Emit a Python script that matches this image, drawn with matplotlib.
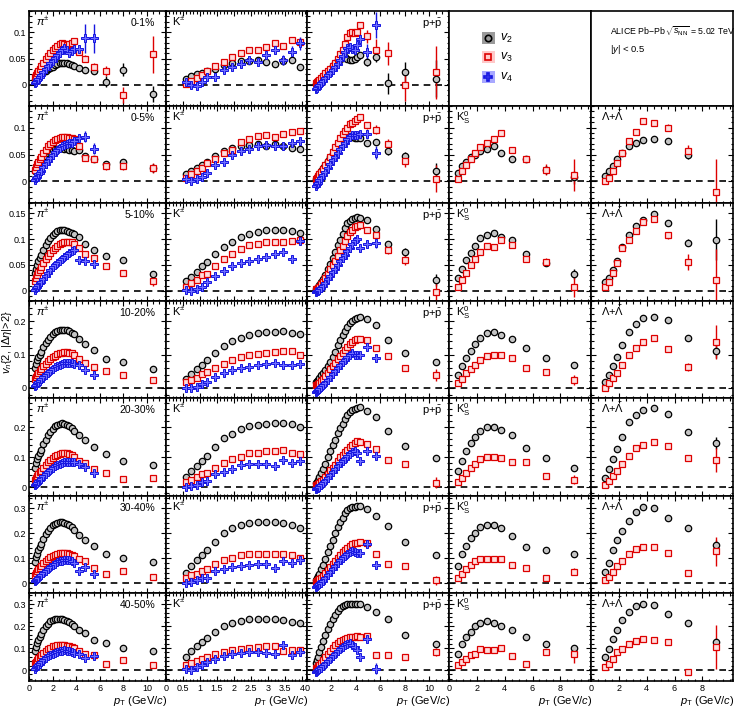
import numpy as np
import matplotlib
matplotlib.use("Agg")
import matplotlib.pyplot as plt
from matplotlib.ticker import MultipleLocator, FixedLocator, FuncFormatter
from matplotlib.patches import Rectangle
from matplotlib import font_manager as fm

# ---------------- data ----------------
CENT = ["0-1%", "0-5%", "5-10%", "10-20%", "20-30%", "30-40%", "40-50%"]

PI_PT = [0.5, 0.6, 0.7, 0.8, 0.9, 1.0, 1.2, 1.4, 1.6, 1.8, 2.0, 2.2, 2.4, 2.6, 2.8,
         3.0, 3.2, 3.4, 3.6, 3.8, 4.25, 4.75, 5.5, 6.5, 8.0, 10.5]
PI_V2 = [
    [0.010, 0.012, 0.014, 0.016, 0.018, 0.020, 0.024, 0.027, 0.030, 0.032, 0.034, 0.037, 0.039, 0.041, 0.042, 0.042, 0.041, 0.039, 0.037, 0.035, 0.032, 0.028, 0.026, 0.006, 0.029, -0.017],
    [0.019, 0.023, 0.027, 0.031, 0.034, 0.037, 0.043, 0.048, 0.052, 0.055, 0.058, 0.060, 0.061, 0.062, 0.062, 0.061, 0.060, 0.059, 0.058, 0.057, 0.058, 0.047, 0.042, 0.032, 0.036, 0.025],
    [0.034, 0.042, 0.050, 0.057, 0.063, 0.069, 0.079, 0.088, 0.096, 0.103, 0.108, 0.112, 0.115, 0.117, 0.117, 0.117, 0.116, 0.114, 0.112, 0.109, 0.104, 0.090, 0.079, 0.067, 0.059, 0.033],
    [0.060, 0.072, 0.083, 0.092, 0.100, 0.108, 0.121, 0.133, 0.144, 0.153, 0.160, 0.166, 0.170, 0.173, 0.174, 0.174, 0.172, 0.169, 0.165, 0.160, 0.145, 0.130, 0.113, 0.087, 0.078, 0.058],
    [0.065, 0.080, 0.093, 0.105, 0.115, 0.125, 0.142, 0.158, 0.172, 0.184, 0.194, 0.202, 0.208, 0.211, 0.212, 0.211, 0.208, 0.203, 0.196, 0.188, 0.172, 0.158, 0.132, 0.110, 0.087, 0.073],
    [0.086, 0.103, 0.118, 0.132, 0.145, 0.157, 0.178, 0.196, 0.211, 0.223, 0.232, 0.239, 0.243, 0.245, 0.245, 0.243, 0.239, 0.233, 0.225, 0.215, 0.195, 0.172, 0.149, 0.118, 0.102, 0.086],
    [0.085, 0.105, 0.122, 0.137, 0.150, 0.162, 0.182, 0.198, 0.211, 0.221, 0.228, 0.232, 0.234, 0.234, 0.232, 0.229, 0.224, 0.218, 0.210, 0.200, 0.180, 0.166, 0.138, 0.123, 0.102, 0.085],
]
PI_V3 = [
    [0.015, 0.019, 0.023, 0.027, 0.031, 0.035, 0.042, 0.049, 0.055, 0.061, 0.066, 0.070, 0.074, 0.078, 0.079, 0.077, 0.076, 0.078, 0.080, 0.084, 0.062, 0.050, 0.034, 0.026, -0.019, 0.058],
    [0.022, 0.027, 0.032, 0.037, 0.041, 0.045, 0.052, 0.059, 0.065, 0.070, 0.074, 0.077, 0.079, 0.081, 0.082, 0.082, 0.082, 0.081, 0.080, 0.079, 0.065, 0.044, 0.042, 0.028, 0.028, 0.025],
    [0.018, 0.024, 0.030, 0.036, 0.041, 0.046, 0.054, 0.062, 0.068, 0.074, 0.079, 0.083, 0.087, 0.090, 0.092, 0.094, 0.095, 0.095, 0.094, 0.090, 0.082, 0.072, 0.063, 0.047, 0.035, 0.018],
    [0.028, 0.034, 0.040, 0.046, 0.051, 0.056, 0.065, 0.073, 0.080, 0.087, 0.092, 0.097, 0.101, 0.104, 0.106, 0.107, 0.107, 0.106, 0.104, 0.100, 0.087, 0.075, 0.062, 0.050, 0.038, 0.024],
    [0.025, 0.031, 0.037, 0.043, 0.049, 0.055, 0.065, 0.074, 0.082, 0.090, 0.097, 0.103, 0.108, 0.111, 0.113, 0.113, 0.112, 0.110, 0.106, 0.100, 0.088, 0.080, 0.060, 0.047, 0.028, 0.031],
    [0.033, 0.041, 0.048, 0.055, 0.062, 0.068, 0.079, 0.089, 0.097, 0.104, 0.110, 0.114, 0.117, 0.119, 0.120, 0.120, 0.119, 0.117, 0.114, 0.110, 0.097, 0.090, 0.060, 0.038, 0.048, 0.024],
    [0.030, 0.038, 0.046, 0.053, 0.060, 0.067, 0.078, 0.088, 0.096, 0.102, 0.107, 0.110, 0.112, 0.113, 0.113, 0.112, 0.110, 0.107, 0.103, 0.098, 0.085, 0.074, 0.070, 0.029, 0.044, 0.021],
]
PI_V4 = [
    [0.003, 0.006, 0.009, 0.012, 0.015, 0.018, 0.024, 0.030, 0.036, 0.041, 0.046, 0.051, 0.056, 0.061, 0.066, 0.070, 0.066, 0.060, 0.064, 0.068, 0.068, 0.088, 0.088],
    [0.003, 0.006, 0.009, 0.013, 0.016, 0.019, 0.026, 0.032, 0.038, 0.044, 0.049, 0.054, 0.058, 0.062, 0.065, 0.068, 0.070, 0.071, 0.072, 0.075, 0.080, 0.083, 0.061],
    [0.002, 0.005, 0.008, 0.011, 0.014, 0.017, 0.023, 0.029, 0.034, 0.040, 0.045, 0.049, 0.054, 0.058, 0.062, 0.066, 0.070, 0.073, 0.076, 0.078, 0.060, 0.058, 0.052],
    [0.006, 0.010, 0.014, 0.018, 0.022, 0.026, 0.033, 0.040, 0.046, 0.052, 0.057, 0.062, 0.066, 0.069, 0.072, 0.074, 0.075, 0.076, 0.075, 0.073, 0.068, 0.054, 0.039],
    [0.006, 0.010, 0.015, 0.019, 0.024, 0.028, 0.036, 0.044, 0.051, 0.058, 0.064, 0.069, 0.073, 0.077, 0.080, 0.082, 0.083, 0.083, 0.082, 0.085, 0.078, 0.067, 0.047],
    [0.007, 0.012, 0.017, 0.022, 0.027, 0.032, 0.041, 0.050, 0.058, 0.066, 0.072, 0.078, 0.083, 0.087, 0.090, 0.092, 0.092, 0.091, 0.088, 0.080, 0.050, 0.065, 0.035],
    [0.006, 0.012, 0.018, 0.024, 0.029, 0.035, 0.045, 0.054, 0.062, 0.069, 0.075, 0.079, 0.083, 0.086, 0.088, 0.089, 0.088, 0.086, 0.083, 0.078, 0.074, 0.056, 0.062],
]
# uncertainties of the last (high-pT) points of each series
PI_V2_ERR = [[0.003, 0.003, 0.004, 0.010, 0.012, 0.015], [0.002, 0.002, 0.003, 0.004, 0.005, 0.008],
             [0.002, 0.002, 0.002, 0.003, 0.004, 0.005], [0.002, 0.002, 0.002, 0.003, 0.003, 0.004],
             [0.002, 0.002, 0.002, 0.003, 0.003, 0.004], [0.002, 0.002, 0.002, 0.003, 0.003, 0.004],
             [0.002, 0.002, 0.002, 0.003, 0.003, 0.004]]
PI_V3_ERR = [[0.005, 0.006, 0.008, 0.010, 0.015, 0.035], [0.003, 0.004, 0.005, 0.006, 0.007, 0.010],
             [0.003, 0.003, 0.004, 0.005, 0.006, 0.008], [0.003, 0.003, 0.004, 0.005, 0.005, 0.007],
             [0.003, 0.003, 0.004, 0.005, 0.005, 0.007], [0.003, 0.003, 0.004, 0.005, 0.005, 0.007],
             [0.003, 0.003, 0.004, 0.005, 0.005, 0.007]]
PI_V4_ERR = [[0.008, 0.028, 0.028], [0.005, 0.010, 0.010], [0.004, 0.007, 0.007], [0.004, 0.005, 0.006],
             [0.004, 0.005, 0.006], [0.004, 0.006, 0.007], [0.004, 0.006, 0.007]]

K_PT = [0.6, 0.75, 0.9, 1.05, 1.2, 1.45, 1.7, 1.95, 2.2, 2.45, 2.7, 2.95, 3.2, 3.45, 3.7, 3.95]
K_V2 = [
    [0.012, 0.016, 0.020, 0.022, 0.026, 0.031, 0.038, 0.042, 0.045, 0.046, 0.047, 0.044, 0.039, 0.045, 0.047, 0.034],
    [0.013, 0.019, 0.025, 0.031, 0.037, 0.047, 0.056, 0.062, 0.066, 0.067, 0.069, 0.066, 0.069, 0.066, 0.062, 0.061],
    [0.018, 0.027, 0.037, 0.047, 0.056, 0.071, 0.085, 0.095, 0.104, 0.109, 0.114, 0.117, 0.118, 0.118, 0.116, 0.112],
    [0.028, 0.042, 0.057, 0.070, 0.084, 0.105, 0.124, 0.139, 0.150, 0.158, 0.164, 0.167, 0.168, 0.169, 0.165, 0.160],
    [0.033, 0.053, 0.070, 0.087, 0.105, 0.135, 0.162, 0.178, 0.192, 0.203, 0.208, 0.211, 0.212, 0.212, 0.209, 0.200],
    [0.042, 0.069, 0.092, 0.114, 0.134, 0.165, 0.200, 0.220, 0.234, 0.242, 0.244, 0.244, 0.244, 0.240, 0.234, 0.223],
    [0.060, 0.085, 0.108, 0.128, 0.145, 0.172, 0.200, 0.215, 0.225, 0.230, 0.233, 0.233, 0.230, 0.228, 0.220, 0.214],
]
K_V3 = [
    [0.002, 0.008, 0.014, 0.018, 0.026, 0.035, 0.044, 0.052, 0.061, 0.066, 0.067, 0.072, 0.079, 0.074, 0.085, 0.082],
    [0.006, 0.013, 0.019, 0.025, 0.034, 0.041, 0.053, 0.059, 0.073, 0.079, 0.084, 0.086, 0.083, 0.088, 0.091, 0.093],
    [0.008, 0.015, 0.021, 0.031, 0.033, 0.047, 0.061, 0.072, 0.080, 0.088, 0.090, 0.095, 0.095, 0.095, 0.096, 0.098],
    [0.017, 0.024, 0.031, 0.041, 0.047, 0.060, 0.073, 0.083, 0.093, 0.098, 0.103, 0.106, 0.108, 0.110, 0.110, 0.100],
    [0.017, 0.025, 0.033, 0.042, 0.047, 0.064, 0.081, 0.093, 0.100, 0.112, 0.115, 0.119, 0.121, 0.123, 0.115, 0.110],
    [0.022, 0.032, 0.038, 0.048, 0.055, 0.078, 0.092, 0.102, 0.113, 0.118, 0.116, 0.118, 0.118, 0.118, 0.113, 0.102],
    [0.021, 0.032, 0.041, 0.050, 0.058, 0.072, 0.084, 0.092, 0.097, 0.102, 0.105, 0.107, 0.108, 0.088, 0.090, 0.090],
]
K_V4 = [
    [0.005, -0.001, -0.003, 0.005, 0.015, 0.015, 0.028, 0.033, 0.039, 0.047, 0.044, 0.056, 0.066, 0.047, 0.063, 0.079],
    [0.004, 0.000, 0.004, 0.009, 0.016, 0.031, 0.037, 0.050, 0.056, 0.061, 0.066, 0.067, 0.066, 0.066, 0.072, 0.075],
    [0.002, -0.001, 0.003, 0.008, 0.016, 0.029, 0.039, 0.047, 0.053, 0.058, 0.061, 0.066, 0.071, 0.075, 0.061, 0.097],
    [0.000, 0.000, 0.004, 0.011, 0.017, 0.034, 0.044, 0.054, 0.059, 0.063, 0.068, 0.073, 0.075, 0.070, 0.070, 0.073],
    [0.000, 0.002, 0.008, 0.017, 0.019, 0.042, 0.051, 0.059, 0.073, 0.078, 0.076, 0.078, 0.070, 0.089, 0.081, 0.087],
    [0.001, 0.005, 0.011, 0.019, 0.022, 0.048, 0.055, 0.065, 0.069, 0.073, 0.078, 0.078, 0.062, 0.089, 0.082, 0.092],
    [0.006, 0.002, 0.014, 0.025, 0.036, 0.050, 0.062, 0.074, 0.077, 0.082, 0.082, 0.077, 0.074, 0.115, 0.067, 0.082],
]
K_V2_ERR = [[0.004, 0.004, 0.005, 0.005]] + [[0.002, 0.002, 0.003, 0.003]] * 6
K_V3_ERR = [[0.005, 0.006, 0.006, 0.007], [0.004, 0.004, 0.005, 0.005]] + [[0.003, 0.003, 0.004, 0.004]] * 5
K_V4_ERR = [[0.008, 0.010, 0.010, 0.012]] + [[0.005, 0.006, 0.006, 0.007]] * 6

P_PT = [0.7, 0.8, 0.9, 1.0, 1.15, 1.3, 1.5, 1.7, 1.9, 2.1, 2.3, 2.5, 2.7, 2.9, 3.1, 3.3, 3.5,
        3.7, 3.9, 4.1, 4.35, 4.9, 5.6, 6.6, 8.0, 10.5]
P_V2 = [
    [0.002, 0.004, 0.006, 0.008, 0.011, 0.015, 0.020, 0.026, 0.031, 0.036, 0.041, 0.046, 0.049, 0.051, 0.052, 0.050, 0.048, 0.047, 0.050, 0.052, 0.056, 0.044, 0.053, 0.003, 0.024, 0.012],
    [0.005, 0.008, 0.011, 0.014, 0.020, 0.025, 0.031, 0.038, 0.045, 0.051, 0.057, 0.063, 0.068, 0.072, 0.077, 0.081, 0.084, 0.083, 0.081, 0.080, 0.081, 0.072, 0.073, 0.056, 0.047, 0.020],
    [0.004, 0.006, 0.008, 0.011, 0.017, 0.022, 0.031, 0.043, 0.052, 0.063, 0.075, 0.088, 0.099, 0.110, 0.122, 0.131, 0.136, 0.139, 0.141, 0.142, 0.141, 0.138, 0.120, 0.090, 0.075, 0.021],
    [0.018, 0.021, 0.024, 0.030, 0.038, 0.045, 0.055, 0.065, 0.077, 0.092, 0.108, 0.127, 0.143, 0.157, 0.170, 0.183, 0.193, 0.200, 0.206, 0.210, 0.212, 0.205, 0.188, 0.143, 0.106, 0.078],
    [0.012, 0.018, 0.025, 0.033, 0.047, 0.060, 0.078, 0.100, 0.120, 0.139, 0.158, 0.180, 0.196, 0.210, 0.226, 0.240, 0.250, 0.256, 0.260, 0.263, 0.266, 0.254, 0.234, 0.186, 0.138, 0.098],
    [0.014, 0.020, 0.028, 0.038, 0.055, 0.072, 0.096, 0.125, 0.150, 0.175, 0.200, 0.225, 0.245, 0.263, 0.280, 0.293, 0.300, 0.304, 0.307, 0.309, 0.311, 0.297, 0.271, 0.230, 0.167, 0.113],
    [0.030, 0.045, 0.060, 0.080, 0.105, 0.130, 0.160, 0.185, 0.210, 0.232, 0.250, 0.267, 0.280, 0.290, 0.295, 0.298, 0.299, 0.300, 0.300, 0.301, 0.302, 0.288, 0.265, 0.233, 0.161, 0.117],
]
P_V3 = [
    [0.004, 0.006, 0.008, 0.010, 0.013, 0.016, 0.022, 0.027, 0.031, 0.036, 0.042, 0.050, 0.058, 0.066, 0.078, 0.090, 0.098, 0.100, 0.098, 0.100, 0.114, 0.092, 0.067, 0.060, -0.001, 0.024],
    [0.004, 0.007, 0.010, 0.013, 0.018, 0.023, 0.030, 0.037, 0.045, 0.054, 0.063, 0.072, 0.080, 0.088, 0.094, 0.100, 0.106, 0.109, 0.113, 0.116, 0.119, 0.104, 0.096, 0.069, 0.038, 0.005],
    [0.003, 0.004, 0.005, 0.007, 0.012, 0.016, 0.024, 0.033, 0.042, 0.050, 0.058, 0.068, 0.078, 0.087, 0.097, 0.106, 0.113, 0.118, 0.123, 0.126, 0.128, 0.118, 0.107, 0.079, 0.059, -0.003],
    [0.008, 0.010, 0.013, 0.016, 0.022, 0.028, 0.036, 0.046, 0.056, 0.065, 0.075, 0.086, 0.096, 0.105, 0.114, 0.123, 0.131, 0.137, 0.143, 0.146, 0.146, 0.143, 0.120, 0.096, 0.059, 0.039],
    [0.006, 0.008, 0.010, 0.013, 0.019, 0.025, 0.034, 0.045, 0.056, 0.065, 0.075, 0.087, 0.099, 0.108, 0.117, 0.125, 0.133, 0.140, 0.147, 0.152, 0.149, 0.144, 0.127, 0.089, 0.078, 0.014],
    [0.006, 0.008, 0.011, 0.015, 0.022, 0.030, 0.040, 0.052, 0.064, 0.075, 0.087, 0.100, 0.112, 0.123, 0.133, 0.142, 0.150, 0.156, 0.161, 0.163, 0.165, 0.163, 0.116, 0.078, 0.069, 0.011],
    [0.008, 0.011, 0.016, 0.022, 0.032, 0.045, 0.060, 0.075, 0.088, 0.100, 0.112, 0.122, 0.130, 0.137, 0.142, 0.146, 0.149, 0.151, 0.152, 0.153, 0.150, 0.153, 0.070, 0.067, 0.059, 0.082],
]
P_V4 = [
    [-0.008, -0.006, -0.003, 0.000, 0.004, 0.008, 0.013, 0.018, 0.023, 0.028, 0.034, 0.040, 0.047, 0.055, 0.063, 0.070, 0.072, 0.068, 0.066, 0.075, 0.087, 0.063, 0.114],
    [-0.008, -0.005, -0.002, 0.002, 0.007, 0.012, 0.018, 0.025, 0.032, 0.039, 0.046, 0.053, 0.060, 0.066, 0.072, 0.078, 0.083, 0.086, 0.087, 0.087, 0.088, 0.088, 0.053],
    [-0.002, -0.001, 0.000, 0.002, 0.005, 0.009, 0.015, 0.022, 0.029, 0.036, 0.043, 0.050, 0.057, 0.064, 0.070, 0.077, 0.083, 0.090, 0.097, 0.101, 0.082, 0.090, 0.093],
    [-0.012, -0.009, -0.006, -0.003, 0.002, 0.008, 0.015, 0.024, 0.033, 0.042, 0.051, 0.060, 0.069, 0.077, 0.085, 0.092, 0.099, 0.104, 0.098, 0.098, 0.098, 0.123, 0.090],
    [-0.006, -0.004, -0.002, 0.001, 0.006, 0.012, 0.020, 0.030, 0.040, 0.050, 0.060, 0.070, 0.080, 0.088, 0.095, 0.103, 0.110, 0.117, 0.121, 0.115, 0.087, 0.121, 0.104],
    [-0.016, -0.012, -0.008, -0.004, 0.002, 0.010, 0.020, 0.032, 0.044, 0.056, 0.068, 0.080, 0.091, 0.100, 0.109, 0.117, 0.124, 0.129, 0.125, 0.122, 0.122, 0.159, 0.073],
    [-0.010, -0.006, -0.002, 0.003, 0.010, 0.018, 0.028, 0.040, 0.052, 0.063, 0.074, 0.085, 0.095, 0.104, 0.112, 0.118, 0.122, 0.115, 0.105, 0.090, 0.060, 0.142, 0.006],
]
P_V2_ERR = [[0.008, 0.010, 0.020, 0.020, 0.035], [0.005, 0.006, 0.007, 0.008, 0.015],
            [0.004, 0.005, 0.006, 0.008, 0.012]] + [[0.004, 0.004, 0.005, 0.006, 0.010]] * 4
P_V3_ERR = [[0.012, 0.020, 0.022, 0.030, 0.050], [0.006, 0.008, 0.010, 0.012, 0.025],
            [0.005, 0.006, 0.008, 0.010, 0.020]] + [[0.005, 0.006, 0.007, 0.009, 0.018]] * 4
P_V4_ERR = [[0.015, 0.025], [0.008, 0.012], [0.008, 0.010], [0.008, 0.010], [0.008, 0.010],
            [0.010, 0.012], [0.012, 0.025]]

# K0S and Lambda: centralities 0-5% ... 40-50%
K0S_PT = [0.65, 0.95, 1.25, 1.55, 1.85, 2.25, 2.75, 3.25, 3.75, 4.5, 5.5, 7.0, 9.0]
K0S_V2 = [
    [0.016, 0.028, 0.037, 0.045, 0.050, 0.057, 0.061, 0.066, 0.053, 0.042, 0.042, 0.022, 0.008],
    [0.024, 0.043, 0.059, 0.073, 0.087, 0.102, 0.107, 0.112, 0.105, 0.098, 0.071, 0.054, 0.033],
    [0.039, 0.066, 0.090, 0.112, 0.130, 0.148, 0.165, 0.168, 0.158, 0.146, 0.120, 0.090, 0.070],
    [0.053, 0.087, 0.120, 0.147, 0.168, 0.188, 0.200, 0.200, 0.191, 0.172, 0.130, 0.096, 0.064],
    [0.069, 0.116, 0.149, 0.180, 0.203, 0.224, 0.234, 0.234, 0.223, 0.190, 0.145, 0.132, 0.118],
    [0.074, 0.120, 0.150, 0.173, 0.198, 0.214, 0.223, 0.214, 0.198, 0.180, 0.150, 0.120, 0.102],
]
K0S_V3 = [
    [0.004, 0.019, 0.030, 0.041, 0.053, 0.063, 0.071, 0.078, 0.089, 0.059, 0.042, 0.022, 0.012],
    [0.008, 0.021, 0.034, 0.050, 0.062, 0.075, 0.086, 0.085, 0.099, 0.088, 0.061, 0.056, 0.008],
    [0.014, 0.027, 0.044, 0.057, 0.068, 0.083, 0.096, 0.100, 0.098, 0.090, 0.061, 0.049, 0.024],
    [0.017, 0.031, 0.047, 0.064, 0.076, 0.093, 0.100, 0.100, 0.098, 0.085, 0.085, 0.036, 0.025],
    [0.019, 0.035, 0.055, 0.073, 0.089, 0.096, 0.096, 0.096, 0.096, 0.073, 0.062, 0.019, 0.046],
    [0.021, 0.036, 0.052, 0.067, 0.074, 0.097, 0.089, 0.089, 0.102, 0.062, 0.029, 0.082, 0.074],
]
K0S_V2_ERR = [[0.003, 0.004, 0.006, 0.012], [0.003, 0.004, 0.006, 0.010]] + [[0.003, 0.004, 0.005, 0.008]] * 4
K0S_V3_ERR = [[0.004, 0.006, 0.010, 0.030], [0.004, 0.006, 0.008, 0.020], [0.004, 0.005, 0.008, 0.015],
              [0.004, 0.005, 0.008, 0.015], [0.004, 0.005, 0.008, 0.015], [0.004, 0.005, 0.008, 0.040]]

LAM_PT = [1.0, 1.3, 1.6, 1.9, 2.25, 2.75, 3.25, 3.75, 4.5, 5.5, 7.0, 9.0]
LAM_V2 = [
    [0.011, 0.019, 0.028, 0.041, 0.053, 0.066, 0.072, 0.077, 0.079, 0.075, 0.050, float("nan")],
    [0.016, 0.024, 0.040, 0.058, 0.085, 0.107, 0.125, 0.137, 0.149, 0.131, 0.093, 0.099],
    [0.017, 0.039, 0.066, 0.093, 0.128, 0.166, 0.192, 0.209, 0.212, 0.204, 0.148, 0.110],
    [0.031, 0.059, 0.093, 0.127, 0.168, 0.217, 0.240, 0.256, 0.262, 0.243, 0.183, 0.146],
    [0.046, 0.082, 0.132, 0.172, 0.210, 0.250, 0.284, 0.304, 0.301, 0.261, 0.223, 0.153],
    [0.059, 0.097, 0.142, 0.183, 0.226, 0.264, 0.291, 0.298, 0.294, 0.253, 0.214, 0.127],
]
LAM_V3 = [
    [0.000, 0.006, 0.019, 0.034, 0.053, 0.075, 0.091, 0.113, 0.109, 0.100, 0.056, -0.019],
    [0.007, 0.016, 0.034, 0.054, 0.082, 0.098, 0.116, 0.133, 0.139, 0.107, 0.056, 0.021],
    [0.001, 0.014, 0.029, 0.044, 0.068, 0.098, 0.120, 0.138, 0.148, 0.116, 0.063, 0.138],
    [0.006, 0.019, 0.036, 0.053, 0.076, 0.104, 0.130, 0.141, 0.149, 0.138, 0.098, 0.089],
    [0.011, 0.024, 0.046, 0.069, 0.089, 0.116, 0.136, 0.143, 0.145, 0.122, 0.042, 0.127],
    [0.014, 0.029, 0.052, 0.082, 0.097, 0.120, 0.132, 0.142, 0.138, 0.127, -0.009, 0.105],
]
LAM_V2_ERR = [[0.004, 0.005, 0.008, 0.0], [0.004, 0.005, 0.007, 0.040]] + [[0.003, 0.004, 0.006, 0.020]] * 4
LAM_V3_ERR = [[0.005, 0.006, 0.012, 0.060], [0.005, 0.006, 0.015, 0.060], [0.005, 0.006, 0.012, 0.050],
              [0.005, 0.006, 0.010, 0.040], [0.005, 0.006, 0.012, 0.060], [0.005, 0.006, 0.015, 0.100]]

# ---------------- style / layout ----------------
names = {f.name for f in fm.fontManager.ttflist}
BASE = "Liberation Sans Narrow" if "Liberation Sans Narrow" in names else "Liberation Sans"
plt.rcParams["font.family"] = [BASE, "Liberation Sans", "DejaVu Sans"]
plt.rcParams["mathtext.fontset"] = "custom"
plt.rcParams["mathtext.rm"] = BASE
plt.rcParams["mathtext.it"] = BASE + ":italic"
plt.rcParams["mathtext.bf"] = BASE + ":bold"

W, H = 747, 708
fig = plt.figure(figsize=(W / 100, H / 100), dpi=100)
XE = [29, 166, 307, 449, 591, 733]
YE = [11, 106, 203, 301, 398, 496, 593, 681]
YLIMS = [(-0.04, 0.14), (-0.04, 0.14), (-0.02, 0.17), (-0.03, 0.26), (-0.03, 0.297), (-0.04, 0.35), (-0.05, 0.35)]
YMAJ = [0.05, 0.05, 0.05, 0.1, 0.1, 0.1, 0.1]
YMIN = [0.01, 0.01, 0.01, 0.02, 0.02, 0.02, 0.02]
XLIMS = [(0, 11.6), (0, 4.15), (0, 11.6), (0, 10.2), (0, 10.2)]
XTICKS = [[0, 2, 4, 6, 8, 10], [0, 0.5, 1, 1.5, 2, 2.5, 3, 3.5, 4], [0, 2, 4, 6, 8, 10],
          [0, 2, 4, 6, 8], [0, 2, 4, 6, 8]]
XMIN = [0.5, 0.1, 0.5, 0.5, 0.5]

STY = {
    "v2": dict(marker="o", ms=4.6, mec="black", mfc="#c4c4c4", mew=0.9, color="black"),
    "v3": dict(marker="s", ms=4.2, mec="#dd0000", mfc="#ffdcdc", mew=0.9, color="#dd0000"),
    "v4": dict(marker="P", ms=5.4, mec="#1515e0", mfc="#6f6fff", mew=0.7, color="#1515e0"),
}

fmt = FuncFormatter(lambda v, p: ("%g" % round(v, 4)) if abs(v) > 1e-9 else "0")
TICKFS = 6.5


def mkax(c, r):
    left = XE[c] / W
    bottom = 1 - YE[r + 1] / H
    return fig.add_axes([left, bottom, (XE[c + 1] - XE[c]) / W, (YE[r + 1] - YE[r]) / H])


def series(ax, pt, vals, errs, key):
    s = STY[key]
    v = np.asarray(vals, float)
    x = np.asarray(pt[:len(v)], float)
    e = np.zeros(len(v))
    if errs:
        e[len(v) - len(errs):] = errs
    ax.errorbar(x, v, yerr=e, fmt="none", ecolor=s["color"], elinewidth=1.0, capsize=0, zorder=3)
    ax.plot(x, v, ls="none", marker=s["marker"], ms=s["ms"], mec=s["mec"], mfc=s["mfc"],
            mew=s["mew"], zorder=4)


for r in range(7):
    hh = YE[r + 1] - YE[r]
    for c in range(5):
        ax = mkax(c, r)
        for sp in ax.spines.values():
            sp.set_linewidth(1.2)
        if r == 0 and c >= 3:
            ax.set_xticks([])
            ax.set_yticks([])
            continue
        ax.set_xlim(*XLIMS[c])
        ax.set_ylim(*YLIMS[r])
        ax.xaxis.set_major_locator(FixedLocator(XTICKS[c]))
        ax.xaxis.set_minor_locator(MultipleLocator(XMIN[c]))
        ax.yaxis.set_major_locator(MultipleLocator(YMAJ[r]))
        ax.yaxis.set_minor_locator(MultipleLocator(YMIN[r]))
        ax.tick_params(which="both", direction="in", top=True, right=True, width=0.8,
                       labelsize=TICKFS, pad=2)
        ax.tick_params(which="major", length=3.5)
        ax.tick_params(which="minor", length=1.8)
        ax.xaxis.set_major_formatter(fmt)
        ax.yaxis.set_major_formatter(fmt)
        if r != 6:
            ax.tick_params(labelbottom=False)
        if c != 0:
            ax.tick_params(labelleft=False)
        ax.axhline(0, color="black", lw=1.2, ls=(0, (4, 3)), zorder=2)

        if c == 0:
            series(ax, PI_PT, PI_V2[r], PI_V2_ERR[r], "v2")
            series(ax, PI_PT, PI_V3[r], PI_V3_ERR[r], "v3")
            series(ax, PI_PT, PI_V4[r], PI_V4_ERR[r], "v4")
            ax.text(0.05, 1 - 15 / hh, r"$\pi^{\pm}$", transform=ax.transAxes,
                    fontsize=8, va="baseline", ha="left")
            ax.text(0.92, 1 - 15 / hh, CENT[r], transform=ax.transAxes,
                    fontsize=7.5, va="baseline", ha="right")
        elif c == 1:
            series(ax, K_PT, K_V2[r], K_V2_ERR[r], "v2")
            series(ax, K_PT, K_V3[r], K_V3_ERR[r], "v3")
            series(ax, K_PT, K_V4[r], K_V4_ERR[r], "v4")
            ax.text(0.045, 1 - 15 / hh, r"K$^{\pm}$", transform=ax.transAxes,
                    fontsize=8, va="baseline", ha="left")
        elif c == 2:
            series(ax, P_PT, P_V2[r], P_V2_ERR[r], "v2")
            series(ax, P_PT, P_V3[r], P_V3_ERR[r], "v3")
            series(ax, P_PT, P_V4[r], P_V4_ERR[r], "v4")
            ax.text(0.955, 1 - 16 / hh, r"p+$\bar{\rm p}$", transform=ax.transAxes,
                    fontsize=8, va="baseline", ha="right")
        elif c == 3:
            series(ax, K0S_PT, K0S_V2[r - 1], K0S_V2_ERR[r - 1], "v2")
            series(ax, K0S_PT, K0S_V3[r - 1], K0S_V3_ERR[r - 1], "v3")
            ax.text(0.05, 1 - 15 / hh, r"K$^{0}_{\rm S}$", transform=ax.transAxes,
                    fontsize=8, va="baseline", ha="left")
        else:
            series(ax, LAM_PT, LAM_V2[r - 1], LAM_V2_ERR[r - 1], "v2")
            series(ax, LAM_PT, LAM_V3[r - 1], LAM_V3_ERR[r - 1], "v3")
            ax.text(0.07, 1 - 15 / hh, r"$\Lambda$+$\bar{\Lambda}$",
                    transform=ax.transAxes, fontsize=8, va="baseline", ha="left")

# legend panel (row 0, col 3)
lx = 488.3 / W
for yy, key, box, lab in [(38.3, "v2", "#9a9a9a", r"$v_{2}$"), (57.3, "v3", "#ffc8c8", r"$v_{3}$"),
                          (77.3, "v4", "#a8a8ff", r"$v_{4}$")]:
    fy = 1 - yy / H
    fig.patches.append(Rectangle((lx - 6.5 / W, fy - 6 / H), 13 / W, 12 / H, transform=fig.transFigure,
                                 facecolor=box, edgecolor="none", zorder=5))
    s = STY[key]
    fig.lines.append(plt.Line2D([lx], [fy], transform=fig.transFigure, ls="none", marker=s["marker"],
                                ms=s["ms"], mec=s["mec"], mfc="none" if key != "v4" else s["mfc"],
                                mew=1.2, zorder=6))
    fig.text(500 / W, fy, lab, fontsize=9, va="center", ha="left")

fig.text(610 / W, 1 - 31 / H, r"ALICE Pb$-$Pb$\,\sqrt{s_{\rm NN}}$ = 5.02 TeV", fontsize=6.3,
         va="center", ha="left")
fig.text(610 / W, 1 - 49 / H, r"$|y|$ < 0.5", fontsize=6.8, va="center", ha="left")

fig.text(7 / W, 1 - 342 / H, r"$v_{n}${2, $|\Delta\eta|$>2}", rotation=90, fontsize=8,
         va="center", ha="center")
for c in range(5):
    fig.text((XE[c + 1] + 1) / W, 1 - 701 / H, r"$p_{\rm T}$ (GeV/$c$)", fontsize=8,
             va="center", ha="right")

fig.savefig("out.png", dpi=100)
